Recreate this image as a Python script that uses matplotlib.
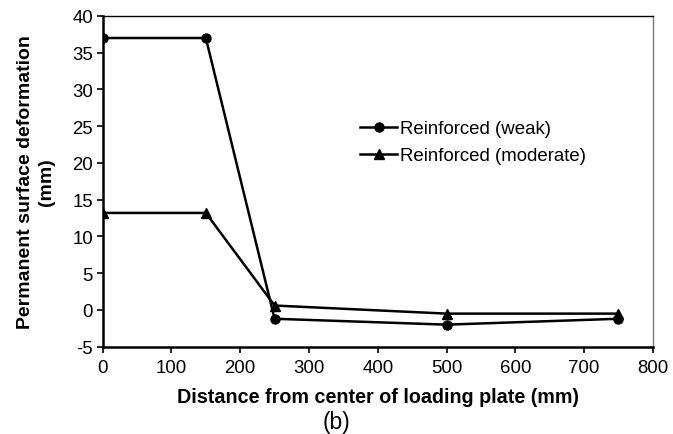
import matplotlib
matplotlib.use("Agg")
import matplotlib.pyplot as plt

plt.rcParams['font.family'] = ['Liberation Sans', 'DejaVu Sans']
plt.rcParams['axes.unicode_minus'] = False

distance = [0, 150, 250, 500, 750]
weak = [37.0, 37.0, -1.2, -2.0, -1.2]
moderate = [13.2, 13.2, 0.6, -0.5, -0.5]

fig = plt.figure(figsize=(6.73, 4.35), dpi=100)
ax = fig.add_axes([0.1526, 0.2007, 0.8174, 0.7603])

ax.plot(distance, weak, color='black', lw=1.8, marker='o', ms=6.5, label='Reinforced (weak)')
ax.plot(distance, moderate, color='black', lw=1.8, marker='^', ms=6.5, label='Reinforced (moderate)')

ax.set_xlim(0, 800)
ax.set_ylim(-5, 40)
ax.set_xticks(range(0, 801, 100))
ax.set_yticks(range(-5, 41, 5))
ax.tick_params(axis='both', labelsize=13.4, direction='out', length=4, width=1.2, colors='black')
ax.tick_params(axis='x', pad=5)
ax.tick_params(axis='y', pad=3)
for s in ['left', 'bottom']:
    ax.spines[s].set_linewidth(1.8)
ax.spines['top'].set_linewidth(1.0)
ax.spines['right'].set_linewidth(1.0)
ax.spines['right'].set_color('#777777')

ax.set_xlabel('Distance from center of loading plate (mm)', fontsize=14.2, fontweight='bold', labelpad=7.5)
ax.set_ylabel('Permanent surface deformation\n(mm)', fontsize=14, fontweight='bold', labelpad=12.5,
              linespacing=1.25)

ax.legend(loc='upper left', bbox_to_anchor=(0.468, 0.685), frameon=False, fontsize=13.4,
          handlelength=2.0, handletextpad=0.15, labelspacing=0.55, borderpad=0, borderaxespad=0)

fig.text(0.5, 0.029, '(b)', ha='center', va='center', fontsize=16.5)

fig.savefig('out.png', dpi=100)
